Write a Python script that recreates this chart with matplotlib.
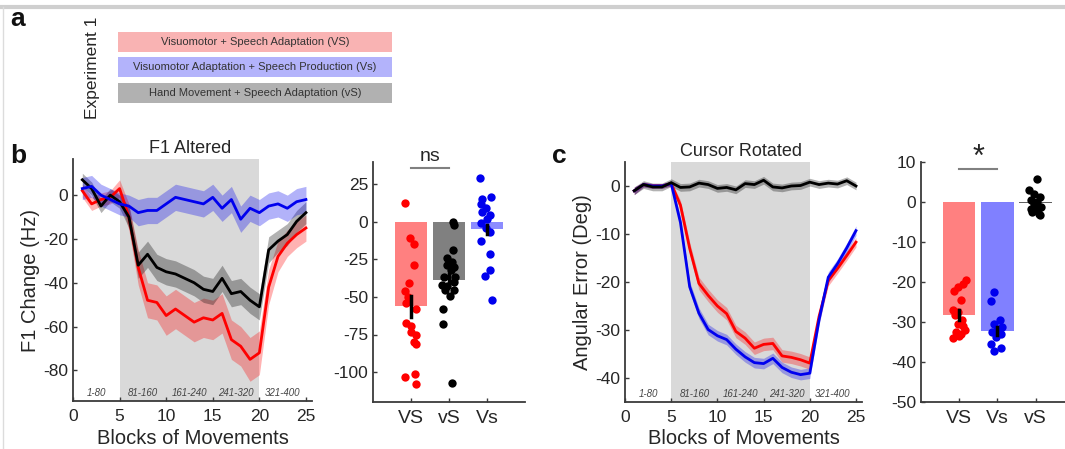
import matplotlib
matplotlib.use("Agg")
import matplotlib.pyplot as plt
import numpy as np

plt.rcParams['font.family'] = ['Liberation Sans', 'DejaVu Sans']
plt.rcParams['axes.unicode_minus'] = False

W, H = 1065, 449

# ---------------- data ----------------
blocks = np.arange(1, 26)
block_labels = ["1-80", "81-160", "161-240", "241-320", "321-400"]

# Panel b: F1 change (Hz)
f1_VS = [2, -4, -2, -1, 3, -10, -33, -48, -49, -55, -52, -55, -58, -56, -57, -54, -66, -69, -75, -72, -42, -28, -22, -18, -15]
f1_vS = [7, 3, -5, 0, -3, -10, -32, -27, -33, -35, -36, -38, -40, -43, -44, -38, -45, -44, -48, -51, -25, -21, -18, -12, -8]
f1_Vs = [3, 4, 0, -2, -4, -5, -8, -7, -7, -4, -1, -2, -3, -4, -1, -6, -2, -11, -6, -8, -5, -4, -6, -3, -2]
f1_VS_sem = [3, 3, 3, 3, 4, 6, 8, 8, 8, 9, 9, 9, 9, 9, 9, 9, 9, 9, 10, 10, 8, 7, 6, 6, 6]
f1_vS_sem = [3, 3, 3, 3, 3, 5, 6, 6, 6, 6, 6, 6, 6, 6, 6, 6, 6, 6, 6, 6, 6, 5, 5, 5, 5]
f1_Vs_sem = [5, 5, 5, 5, 5, 5, 6, 6, 6, 6, 6, 6, 6, 6, 6, 6, 6, 6, 6, 6, 6, 6, 6, 6, 6]

# Panel b scatter
b_cats = ["VS", "vS", "Vs"]
b_means = [-56, -39, -5]
b_sems = [7, 4, 3]
b_VS_pts = [12.9, -10.4, -14.9, -28.7, -40.7, -46, -54, -58, -67, -69, -73, -75, -80, -81, -103, -101, -108, -50]
b_VS_dx = [-0.15, -0.02, 0.07, 0.09, -0.06, -0.17, -0.14, 0.14, -0.12, 0.0, 0.0, 0.12, 0.07, 0.12, -0.15, 0.11, 0.13, -0.08]
b_vS_pts = [-0.2, -2, -19, -24, -27, -29, -30, -32, -37, -37, -40, -42, -43, -45.5, -45.5, -49, -58, -68, -107]
b_vS_dx = [0.11, 0.13, 0.10, -0.04, 0.07, -0.04, 0.13, 0.04, -0.13, 0.15, 0.12, -0.18, -0.04, -0.1, 0.13, 0.03, -0.15, -0.15, 0.07]
b_Vs_pts = [29, 16.7, 15.5, 12, 9.5, 6.7, 4.4, 2, -1, -4, -6.7, -13, -21.5, -32, -36, -52]
b_Vs_dx = [-0.18, 0.11, -0.13, -0.16, -0.02, -0.13, 0.09, 0.0, -0.16, -0.03, 0.07, -0.15, 0.09, 0.09, -0.04, 0.12]

# Panel c: angular error (deg)
ang_VS = [-1, 0.3, 0, 0, 0.5, -4, -13, -20.3, -22.8, -25, -26.6, -30.3, -31.7, -33.8, -33, -32.8, -35.4, -35.7, -36.2, -36.9, -27.2, -19.7, -17.2, -14.5, -11.7]
ang_Vs = [-1, 0.3, 0, 0, 0.5, -7.6, -21, -26.5, -29.9, -31.2, -32, -34, -35.6, -36.8, -37, -35.9, -37.8, -38.8, -39.3, -39, -27.9, -19, -16.2, -12.9, -9.3]
ang_vS = [-1, 0.3, -0.2, -0.2, 0.7, -0.3, -0.2, 0.6, 0.3, -0.5, -0.3, -0.8, 0.5, 0.3, 1.2, -0.2, -0.4, 0, 0.1, 0.8, 0.3, 0.6, 0.4, 1.1, 0]
ang_VS_sem = [0.8, 0.5, 0.5, 0.5, 0.5, 1, 1.3, 1.3, 1.3, 1.3, 1.3, 1.3, 1.3, 1.3, 1.3, 1.3, 1.3, 1.3, 1.3, 1.3, 1.3, 1.1, 1, 1, 1]
ang_Vs_sem = [0.8, 0.5, 0.5, 0.5, 0.5, 1, 1.1, 1.1, 1.1, 1.1, 1.1, 1.1, 1.1, 1.1, 1.1, 1.1, 1.1, 1.1, 1.1, 1.1, 1.1, 1.1, 1, 1, 1]
ang_vS_sem = [0.8] * 25

# Panel c scatter
c_cats = ["VS", "Vs", "vS"]
c_means = [-28.2, -32.3, -0.3]
c_sems = [1.2, 1.0, 0.6]
c_VS_pts = [-19.6, -20.6, -21.3, -22.3, -24.6, -27, -27.5, -28.3, -29.6, -30.4, -31, -32, -32.5, -33, -34, -33.6]
c_VS_dx = [0.17, 0.09, -0.04, -0.13, 0.04, -0.15, -0.03, -0.10, 0.07, -0.04, 0.11, 0.15, -0.09, 0.04, -0.15, 0.0]
c_Vs_pts = [-22.5, -24.8, -29.4, -30.4, -31.3, -32, -32.5, -33, -33.8, -35.4, -36.4, -37.3]
c_Vs_dx = [-0.09, -0.17, 0.07, -0.10, 0.13, 0.0, -0.13, 0.09, -0.04, -0.16, 0.09, -0.10]
c_vS_pts = [5.8, 2.9, 2, 1.25, 0.4, 0, -0.6, -1.25, -1.7, -2, -2.9, -2.5, -3.3]
c_vS_dx = [0.03, -0.17, -0.04, 0.11, -0.13, 0.04, -0.04, 0.13, -0.13, 0.0, 0.09, -0.09, 0.11]

legend_texts = ["Visuomotor + Speech Adaptation (VS)",
                "Visuomotor Adaptation + Speech Production (Vs)",
                "Hand Movement + Speech Adaptation (vS)"]

# ---------------- style ----------------
RED, BLUE, BLACK = "#ff0000", "#0000ee", "#000000"
TXT = "#262626"
SPINE = "#3a3a3a"
SHADE = "#d9d9d9"

fig = plt.figure(figsize=(W / 100, H / 100), dpi=100)


def px_axes(l, t, r, b):
    return fig.add_axes([l / W, 1 - b / H, (r - l) / W, (b - t) / H])


def style(ax):
    for s in ["top", "right"]:
        ax.spines[s].set_visible(False)
    for s in ["left", "bottom"]:
        ax.spines[s].set_color(SPINE)
        ax.spines[s].set_linewidth(1.3)
    ax.tick_params(direction="in", length=3, width=1, colors=SPINE, labelcolor=TXT, labelsize=12.5)
    ax.tick_params(axis="x", pad=6)


# frame lines
fig.add_artist(plt.Line2D([0, 1], [1 - 7 / H, 1 - 7 / H], color="#cfcfcf", lw=3))
fig.add_artist(plt.Line2D([3 / W, 3 / W], [0, 1 - 7 / H], color="#dcdcdc", lw=1))

# panel letters
fig.text(10 / W, 1 - 26 / H, "a", fontsize=19, fontweight="bold", color="#111111")
fig.text(10 / W, 1 - 163 / H, "b", fontsize=19, fontweight="bold", color="#111111")
fig.text(552 / W, 1 - 163 / H, "c", fontsize=19, fontweight="bold", color="#111111")

# panel a legend
fig.text(93 / W, 1 - 68 / H, "Experiment 1", rotation=90, ha="center", va="center", fontsize=12.5, color=TXT)
box_cols = ["#f9b3b3", "#b3b3fb", "#b1b1b1"]
box_tops = [32, 57, 83]
for txt, col, top in zip(legend_texts, box_cols, box_tops):
    fig.add_artist(plt.Rectangle((118 / W, 1 - (top + 20) / H), (392 - 118) / W, 20 / H,
                                 facecolor=col, edgecolor="none"))
    fig.text(255 / W, 1 - (top + 10) / H, txt, ha="center", va="center", fontsize=8, color="#333333")


def line_panel(ax, series, ylim, yticks, ylabel, title):
    style(ax)
    ax.axvspan(5, 20, color=SHADE, zorder=0, lw=0)
    for m, s, c in series:
        m = np.array(m, float)
        s = np.array(s, float)
        ax.fill_between(blocks, m - s, m + s, color=c, alpha=0.3, lw=0, zorder=2)
        ax.plot(blocks, m, color=c, lw=2, zorder=3)
    ax.set_xlim(0, 25.65)
    ax.set_ylim(*ylim)
    ax.set_xticks([0, 5, 10, 15, 20, 25])
    ax.set_yticks(yticks)
    ax.set_ylabel(ylabel, fontsize=14.5, color=TXT, labelpad=2)
    ax.set_xlabel("Blocks of Movements", fontsize=14.5, color=TXT, labelpad=3)
    ax.set_title(title, fontsize=13, color=TXT, pad=4, x=0.49)
    tr = ax.get_xaxis_transform()
    for i, lab in enumerate(block_labels):
        ax.text(2.5 + 5 * i, 0.035, lab, transform=tr, ha="center", va="center",
                fontsize=7, style="italic", color="#444444")


ax1 = px_axes(73, 159, 312, 401)
line_panel(ax1, [(f1_VS, f1_VS_sem, RED), (f1_vS, f1_vS_sem, BLACK), (f1_Vs, f1_Vs_sem, BLUE)],
           (-94, 16.5), [-80, -60, -40, -20, 0], "F1 Change (Hz)", "F1 Altered")

ax3 = px_axes(625, 162, 862, 402)
line_panel(ax3, [(ang_VS, ang_VS_sem, RED), (ang_Vs, ang_Vs_sem, BLUE), (ang_vS, ang_vS_sem, BLACK)],
           (-45, 5), [-40, -30, -20, -10, 0], "Angular Error (Deg)", "Cursor Rotated")


def bar_panel(ax, cats, means, sems, pts, dxs, cols, barcols, ylim, yticks, xlim):
    style(ax)
    x = np.arange(1, len(cats) + 1)
    ax.bar(x, means, width=0.85, color=barcols, zorder=1, lw=0)
    for xi, p, d, c in zip(x, pts, dxs, cols):
        ax.scatter(xi + np.array(d), p, s=36, color=c, zorder=3, lw=0)
    for xi, m, s in zip(x, means, sems):
        ax.plot([xi, xi], [m - s, m + s], color="black", lw=2.5, zorder=4)
    ax.set_xticks(x)
    ax.set_xticklabels(cats)
    ax.set_xlim(*xlim)
    ax.set_ylim(*ylim)
    ax.set_yticks(yticks)
    ax.tick_params(axis="x", labelsize=14, pad=6)


ax2 = px_axes(373, 162, 525, 402)
bar_panel(ax2, b_cats, b_means, b_sems, [b_VS_pts, b_vS_pts, b_Vs_pts], [b_VS_dx, b_vS_dx, b_Vs_dx],
          [RED, BLACK, BLUE], ["#ff8080", "#808080", "#8c8cff"], (-120, 40),
          [-100, -75, -50, -25, 0, 25], (0, 4))
ax2.plot([1, 2], [36, 36], color="#808080", lw=1.5, clip_on=False)
ax2.text(1.5, 38, "ns", ha="center", va="bottom", fontsize=14, color=TXT)

ax4 = px_axes(921, 162, 1068, 402)
bar_panel(ax4, c_cats, c_means, c_sems, [c_VS_pts, c_Vs_pts, c_vS_pts], [c_VS_dx, c_Vs_dx, c_vS_dx],
          [RED, BLUE, BLACK], ["#ff8080", "#8080ff", "#606060"], (-50, 10),
          [-50, -40, -30, -20, -10, 0, 10], (0, 3.85))
ax4.plot([1, 2], [8.2, 8.2], color="#808080", lw=1.5, clip_on=False)
ax4.text(1.5, 7.2, "*", ha="center", va="bottom", fontsize=22, color=TXT)

fig.savefig("out.png", dpi=100)
